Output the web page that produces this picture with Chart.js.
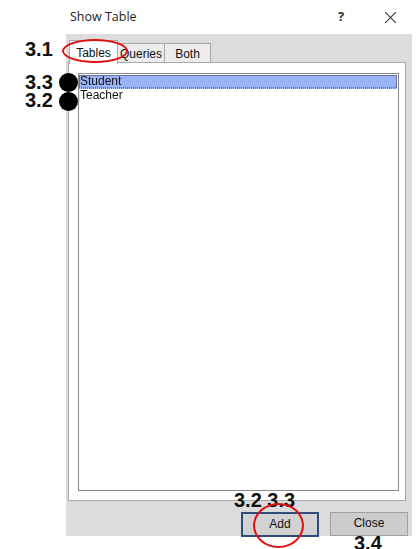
<!DOCTYPE html>
<html>
<head>
<meta charset="utf-8">
<script src="https://cdn.jsdelivr.net/npm/chart.js@4.4.1/dist/chart.umd.min.js"></script>
<style>
  body { margin: 0; width: 416px; height: 549px; background: #fff; position: relative; overflow: hidden; font-family: "Liberation Sans", Arial, sans-serif; }
  .abs { position: absolute; }
  #title { left: 70px; top: 8px; font: 12.5px "Open Sans", sans-serif; color: #222; }
  #help { left: 338px; top: 7px; font: bold 13px "Open Sans", sans-serif; color: #333; }
  .xline { left: 383px; top: 17px; width: 15px; height: 1px; background: #333; }
  #dialog { left: 66px; top: 34px; width: 346px; height: 502px; background: #dcdcdc; }
  #panel { left: 68px; top: 62px; width: 336px; height: 437px; background: #fff; border: 1px solid #a8a8a8; }
  .tab { top: 43px; height: 18px; border: 1px solid #a8a8a8; border-bottom: none; background: #ececec; font-size: 12px; text-align: center; line-height: 20px; color: #111; }
  .tab.on { top: 40px; height: 23px; background: #fff; line-height: 24px; z-index: 2; }
  #list { left: 78px; top: 73px; width: 319px; height: 416px; border: 1px solid #8a8a8a; background: #fff; }
  #rows { left: 79px; top: 75px; }
  .btn { top: 512px; height: 21px; font-size: 12px; text-align: center; line-height: 21px; color: #111; }
  #add { left: 241px; width: 74px; border: 2px solid #2e4c7c; background: #d2d2d2; }
  #close { left: 330px; width: 76px; border: 1px solid #a0a0a0; background: #cccccc; top: 512px; height: 22px; }
  .note { font: bold 20px/15px "Liberation Sans", Arial, sans-serif; color: #111; }
  .dot { width: 19px; height: 19px; border-radius: 50%; background: #000; }
  .ring { border: 2.5px solid #e01010; border-radius: 50%; z-index: 5; }
</style>
</head>
<body>
<div class="abs" id="title">Show Table</div>
<div class="abs" id="help">?</div>
<div class="abs xline" style="transform: rotate(45deg)"></div>
<div class="abs xline" style="transform: rotate(-45deg)"></div>

<div class="abs" id="dialog"></div>
<div class="abs" id="panel"></div>
<div id="tabs"></div>
<div class="abs" id="list"></div>
<canvas class="abs" id="rows" width="318" height="27"></canvas>

<div class="abs btn" id="add">Add</div>
<div class="abs btn" id="close">Close</div>

<div class="abs note" style="left:25px; top:42px">3.1</div>
<div class="abs note" style="left:25px; top:75px">3.3</div>
<div class="abs note" style="left:25px; top:93px">3.2</div>
<div class="abs dot" style="left:59px; top:73px"></div>
<div class="abs dot" style="left:59px; top:92px"></div>
<div class="abs note" style="left:234px; top:493px">3.2&nbsp;3.3</div>
<div class="abs note" style="left:354px; top:536px">3.4</div>
<div class="abs ring" style="left:62px; top:39px; width:62px; height:20px"></div>
<div class="abs ring" style="left:253px; top:503px; width:47px; height:41px"></div>

<script>
const tabLabels = ['Tables', 'Queries', 'Both'];
const tabWidths = [48, 47, 46];
const tableNames = ['Student', 'Teacher'];
const selected = [1, 0];

// tabs across the top of the panel
let x = 69;
document.getElementById('tabs').innerHTML = tabLabels.map((t, i) => {
  const html = `<div class="abs tab${i === 0 ? ' on' : ''}" style="left:${x}px; width:${tabWidths[i] - 1}px">${t}</div>`;
  x += tabWidths[i];
  return html;
}).join('');

// dotted focus rectangle around the selected row
const focusBox = {
  id: 'focusBox',
  afterDatasetsDraw(chart) {
    const ctx = chart.ctx;
    chart.getDatasetMeta(0).data.forEach((bar, i) => {
      if (!selected[i]) return;
      const h = bar.height;
      ctx.save();
      ctx.strokeStyle = '#333';
      ctx.setLineDash([1, 1]);
      ctx.lineWidth = 1;
      ctx.strokeRect(bar.base + 0.5, bar.y - h / 2 + 0.5, bar.x - bar.base - 1, h - 1);
      ctx.restore();
    });
  }
};

new Chart(document.getElementById('rows'), {
  type: 'bar',
  data: {
    labels: tableNames,
    datasets: [{
      data: selected,
      backgroundColor: '#99b4f7',
      barPercentage: 1,
      categoryPercentage: 1
    }]
  },
  options: {
    indexAxis: 'y',
    responsive: false,
    animation: false,
    layout: { padding: 0 },
    plugins: { legend: { display: false }, tooltip: { enabled: false } },
    scales: {
      x: { display: false, min: 0, max: 1 },
      y: {
        grid: { display: false, drawTicks: false },
        border: { display: false },
        afterFit: s => {
          s.width = 0;
          s.paddingTop = 0;
          s.paddingBottom = 0;
        },
        ticks: {
          z: 1,
          mirror: true,
          autoSkip: false,
          padding: 1,
          color: '#111',
          font: { family: 'Liberation Sans', size: 12 }
        }
      }
    }
  },
  plugins: [focusBox]
});
</script>
</body>
</html>
